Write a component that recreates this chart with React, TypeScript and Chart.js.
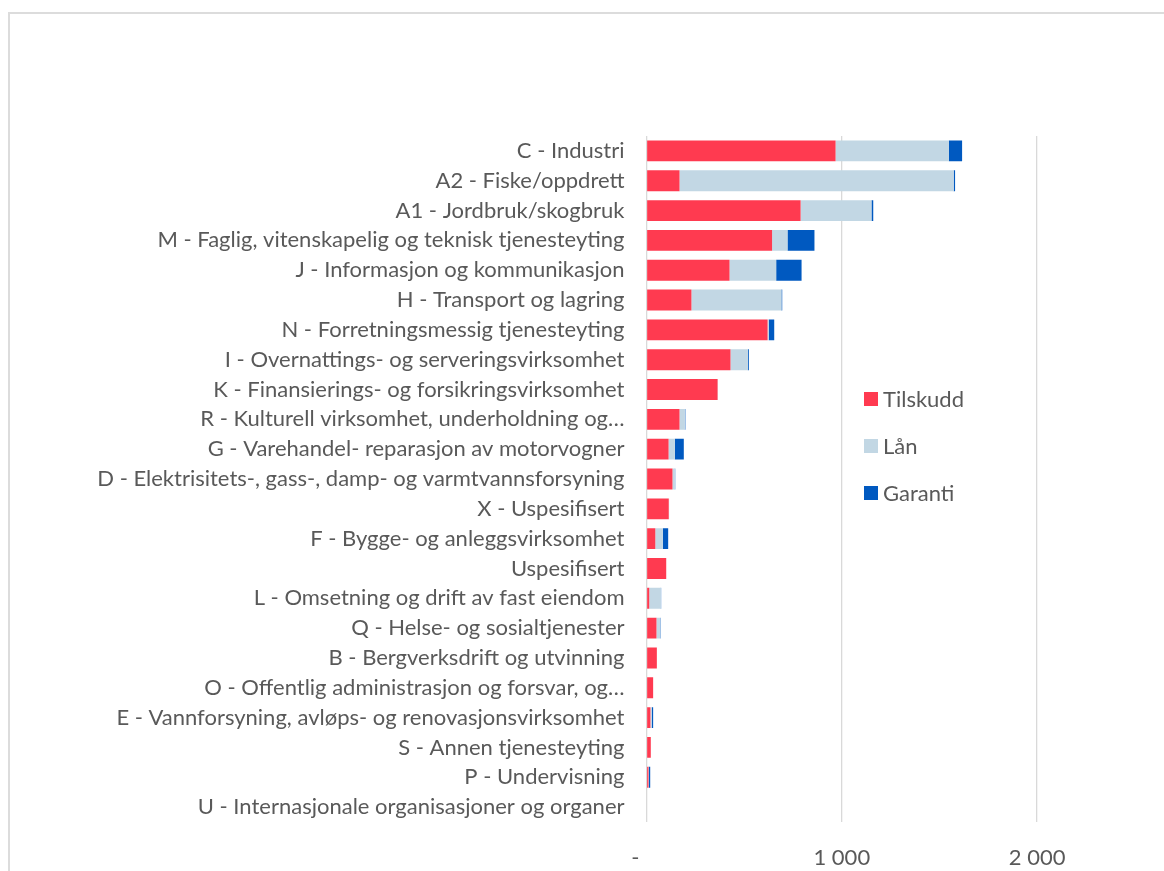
import React, { useEffect, useRef } from "react";
import { Chart, registerables } from "chart.js";

Chart.register(...registerables);

const categories = [
  "C - Industri",
  "A2 - Fiske/oppdrett",
  "A1 - Jordbruk/skogbruk",
  "M - Faglig, vitenskapelig og teknisk tjenesteyting",
  "J - Informasjon og kommunikasjon",
  "H - Transport og lagring",
  "N - Forretningsmessig tjenesteyting",
  "I - Overnattings- og serveringsvirksomhet",
  "K - Finansierings- og forsikringsvirksomhet",
  "R - Kulturell virksomhet, underholdning og…",
  "G - Varehandel- reparasjon av motorvogner",
  "D - Elektrisitets-, gass-, damp- og varmtvannsforsyning",
  "X - Uspesifisert",
  "F - Bygge- og anleggsvirksomhet",
  "Uspesifisert",
  "L - Omsetning og drift av fast eiendom",
  "Q - Helse- og sosialtjenester",
  "B - Bergverksdrift og utvinning",
  "O - Offentlig administrasjon og forsvar, og…",
  "E - Vannforsyning, avløps- og renovasjonsvirksomhet",
  "S - Annen tjenesteyting",
  "P - Undervisning",
  "U - Internasjonale organisasjoner og organer",
];

const tilskudd = [968, 169, 789, 643, 425, 230, 620, 430, 364, 169, 113, 133, 114, 45, 101, 14, 51, 53, 34, 20, 22, 10, 0];
const laan = [580, 1404, 363, 79, 239, 461, 6, 89, 2, 27, 32, 12, 2, 39, 0, 59, 19, 0, 0, 7, 0, 2, 0];
const garanti = [68, 7, 9, 138, 130, 4, 28, 5, 0, 3, 46, 2, 0, 27, 0, 2, 2, 0, 0, 7, 0, 7, 0];

const seriesNames = ["Tilskudd", "Lån", "Garanti"];
const seriesColors = ["#FF3A50", "#C2D7E4", "#0059C0"];
const xTicks = [0, 1000, 2000, 3000];
const xMax = 3000;

const FONT = "Lato, 'Open Sans', sans-serif";
const FONT_SIZE = 22;
const TEXT = "#595959";

const legendPlugin = {
  id: "sideLegend",
  afterDraw(chart: any) {
    const ctx = chart.ctx;
    ctx.save();
    ctx.font = `${FONT_SIZE}px ${FONT}`;
    ctx.textBaseline = "middle";
    ctx.textAlign = "left";
    chart.data.datasets.forEach((ds: any, i: number) => {
      const cy = 385 + i * 47;
      ctx.fillStyle = ds.backgroundColor;
      ctx.fillRect(854, cy - 7, 14, 14);
      ctx.fillStyle = TEXT;
      ctx.fillText(ds.label, 873, cy + 1);
    });
    ctx.restore();
  },
};

export default function App() {
  const ref = useRef<HTMLCanvasElement | null>(null);
  useEffect(() => {
    if (!ref.current) return;
    const data = [tilskudd, laan, garanti];
    const chart = new Chart(ref.current, {
      type: "bar",
      data: {
        labels: categories,
        datasets: seriesNames.map((name, i) => ({
          label: name,
          data: data[i],
          backgroundColor: seriesColors[i],
          borderWidth: 0,
          categoryPercentage: 1,
          barPercentage: 0.7,
        })),
      },
      options: {
        indexAxis: "y",
        responsive: false,
        animation: false,
        layout: { padding: { top: 122, left: 0, right: 17.6, bottom: 32 } },
        plugins: { legend: { display: false }, tooltip: { enabled: false } },
        scales: {
          x: {
            stacked: true,
            min: 0,
            max: xMax,
            afterFit(scale: any) {
              scale.height = 60;
              scale.paddingRight = 0;
              scale.paddingLeft = 0;
            },
            afterBuildTicks(scale: any) {
              scale.ticks = xTicks.map((v) => ({ value: v }));
            },
            border: { display: false },
            grid: { color: "#D9D9D9", lineWidth: 1.3, drawTicks: false },
            ticks: {
              padding: 23,
              color: TEXT,
              font: { family: FONT, size: FONT_SIZE },
              callback: (v: any) => {
                const n = Number(v);
                if (n === 0) return "-    ";
                if (n >= xMax) return "";
                return n.toLocaleString("en-US").replace(/,/g, " ");
              },
            },
          },
          y: {
            stacked: true,
            afterFit(scale: any) {
              scale.width = 636.5;
            },
            border: { display: false },
            grid: { display: false, drawTicks: false },
            ticks: {
              padding: 22,
              autoSkip: false,
              color: TEXT,
              font: { family: FONT, size: FONT_SIZE },
            },
          },
        },
      },
      plugins: [legendPlugin],
    });
    return () => chart.destroy();
  }, []);

  return (
    <div
      style={{
        position: "fixed",
        left: 8,
        top: 12,
        width: 1300,
        height: 950,
        overflow: "hidden",
        borderLeft: "2px solid #DCDCDC",
        borderTop: "2px solid #DCDCDC",
        background: "#fff",
      }}
    >
      <canvas ref={ref} width={1240} height={900} style={{ display: "block" }} />
    </div>
  );
}
